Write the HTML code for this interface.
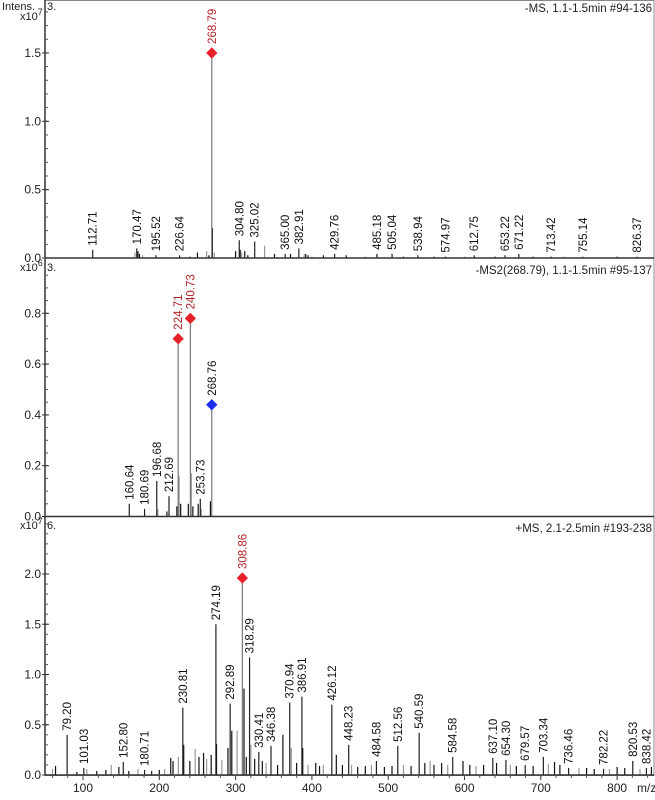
<!DOCTYPE html>
<html><head><meta charset="utf-8">
<style>
html,body{margin:0;padding:0;background:#fff;}
svg{display:block;font-family:"Liberation Sans",Arial,sans-serif;}
</style></head>
<body>
<svg id="chart" width="655" height="800" viewBox="0 0 655 800"></svg>
<script>
// ---- data ----
const xTicks = [100,200,300,400,500,600,700,800];
// Panel 1: -MS (x10^7)
const p1Labels = [112.71,170.47,195.52,226.64,268.79,304.80,325.02,365.00,382.91,429.76,485.18,505.04,538.94,574.97,612.75,653.22,671.22,713.42,755.14,826.37];
const p1Values = [0.06,0.07,0.02,0.02,1.50,0.13,0.12,0.03,0.07,0.03,0.03,0.03,0.02,0.01,0.02,0.02,0.03,0.01,0.01,0.01];
const p1MinorMz = [168,172,174,178,240,250,262,265,269.6,272,300,306,308,312,316,338,351,372,390,392,395,400,415,445,470,520,560,600,640,690,730,800];
const p1MinorVal = [0.04,0.05,0.03,0.02,0.01,0.04,0.05,0.02,0.22,0.04,0.05,0.06,0.04,0.05,0.02,0.09,0.03,0.03,0.03,0.03,0.02,0.01,0.02,0.02,0.01,0.01,0.01,0.01,0.01,0.01,0.01,0.01];
const p1Ticks = [0.0,0.5,1.0,1.5];
// Panel 2: -MS2 (x10^6)
const p2Labels = [160.64,180.69,196.68,212.69,224.71,240.73,253.73,268.76];
const p2Values = [0.05,0.03,0.14,0.08,0.70,0.78,0.07,0.44];
const p2MinorMz = [198,210,223,226,228,238,242,244,251,255,267];
const p2MinorVal = [0.03,0.02,0.04,0.16,0.05,0.05,0.17,0.04,0.05,0.03,0.06];
const p2Ticks = [0.0,0.2,0.4,0.6,0.8];
// Panel 3: +MS (x10^7)
const p3Labels = [79.20,101.03,152.80,180.71,230.81,274.19,292.89,308.86,318.29,330.41,346.38,370.94,386.91,426.12,448.23,484.58,512.56,540.59,584.58,637.10,654.30,679.57,703.34,736.46,782.22,820.53,838.42];
const p3Values = [0.40,0.07,0.13,0.05,0.67,1.50,0.71,1.96,1.17,0.23,0.29,0.72,0.78,0.70,0.30,0.14,0.29,0.42,0.18,0.17,0.15,0.10,0.18,0.07,0.06,0.14,0.07];
const p3MinorMz = [60,64,92,105,118,130,137,147,160,172,190,200,207,215,218,225,232,240,247,252,258,262,268,275,282,290,295,302,311,314,320,325,335,340,355,362,373,380,388,395,405,410,415,432,440,452,460,470,478,495,505,520,530,548,555,560,570,578,598,607,615,625,642,660,668,690,710,718,725,750,760,770,790,800,810,830,845];
const p3MinorVal = [0.06,0.09,0.03,0.06,0.04,0.05,0.1,0.08,0.04,0.06,0.04,0.05,0.06,0.17,0.14,0.18,0.3,0.14,0.26,0.18,0.22,0.16,0.2,0.31,0.15,0.27,0.44,0.44,0.86,0.18,0.3,0.16,0.14,0.12,0.1,0.40,0.27,0.12,0.27,0.1,0.12,0.09,0.1,0.2,0.1,0.1,0.08,0.09,0.1,0.08,0.09,0.1,0.09,0.12,0.14,0.1,0.12,0.1,0.14,0.1,0.09,0.1,0.12,0.1,0.09,0.09,0.11,0.13,0.1,0.07,0.07,0.06,0.06,0.08,0.07,0.06,0.08];
const p3Ticks = [0.0,0.5,1.0,1.5,2.0];

const panels = [
 {name:'ms-panel',top:0,base:258,scale:136.7,labels:p1Labels,values:p1Values,minMz:p1MinorMz,minV:p1MinorVal,ticks:p1Ticks,minorStep:0.1,exp:'7',title:'-MS, 1.1-1.5min #94-136',marks:{'268.79':'#e8202a'}},
 {name:'ms2-panel',top:259,base:516.5,scale:254,labels:p2Labels,values:p2Values,minMz:p2MinorMz,minV:p2MinorVal,ticks:p2Ticks,minorStep:0.05,exp:'6',title:'-MS2(268.79), 1.1-1.5min #95-137',marks:{'224.71':'#e8202a','240.73':'#e8202a','268.76':'#1a2cf0'}},
 {name:'pos-ms-panel',top:517,base:775,scale:100.5,labels:p3Labels,values:p3Values,minMz:p3MinorMz,minV:p3MinorVal,ticks:p3Ticks,minorStep:0.1,exp:'7',title:'+MS, 2.1-2.5min #193-238',marks:{'308.86':'#e8202a'}}
];
const svg = document.getElementById('chart');
const NS='http://www.w3.org/2000/svg';
function xs(m){return 83+(m-100)*0.763;}
function el(tag,attrs,parent){const e=document.createElementNS(NS,tag);for(const k in attrs)e.setAttribute(k,attrs[k]);(parent||svg).appendChild(e);return e;}

const fr=el('rect',{x:45,y:0.5,width:609,height:775,fill:'none',stroke:'#888','stroke-width':1});



panels.forEach((p,pi)=>{
 const g=el('g',{});
 
 
 const ys=v=>p.base-v*p.scale;
 p.minMz.forEach((m,i)=>{
  const l=el('line',{x1:xs(m),x2:xs(m),y1:p.base,y2:ys(p.minV[i]),stroke:i%3==0?'#999':'#111','stroke-width':1.2},g);
  
  
 });
 p.labels.forEach((m,i)=>{
  const key=m.toFixed(2);
  const col=p.marks[key];
  const x=xs(m), y=ys(p.values[i]);
  const l=el('line',{x1:x,x2:x,y1:p.base,y2:y,stroke:col?'#777':'#222','stroke-width':1.2},g);
  
  
  let ty=y-4;
  if(col){
   const d=el('rect',{x:x-4,y:y-4,width:8,height:8,fill:col,transform:`rotate(45 ${x} ${y})`},g);
   
   
   ty=y-9;
  }
  const t=el('text',{x:0,y:0,'font-size':11.5,fill:col&&col!='#1a2cf0'?'#b5242a':'#111',transform:`translate(${x+4} ${ty}) rotate(-90)`},g);
  t.textContent=key;
  
  
 });
 const b=el('line',{x1:45,x2:654,y1:p.base,y2:p.base,stroke:'#333','stroke-width':1.5},g);
 
 
 const a=el('line',{x1:45,x2:45,y1:p.top,y2:p.base,stroke:'#333','stroke-width':1.5},g);
 
 
 for(let v=0;ys(v)>p.top+4;v+=p.minorStep){
  const tk=el('line',{x1:45,x2:48,y1:ys(v),y2:ys(v),stroke:'#555'},g);
  
  
 }
 p.ticks.forEach(v=>{
  const tk=el('line',{x1:42,x2:49,y1:ys(v),y2:ys(v),stroke:'#333'},g);
  
  
  const t=el('text',{x:41,y:ys(v)+4,'font-size':12,'text-anchor':'end',fill:'#222'},g);
  t.textContent=v.toFixed(1);
  
  
 });
 const ex=el('text',{x:20,y:p.top+(pi==0?20:12),'font-size':11,fill:'#222'},g);
 ex.innerHTML='x10<tspan dy="-5" font-size="9">'+p.exp+'</tspan>';
 
 
 const n=el('text',{x:47,y:p.top+(pi==0?10:12),'font-size':11,fill:'#222'},g);
 n.textContent=pi==2?'6.':'3.';
 
 
 const tt=el('text',{x:652,y:p.top+(pi==0?12:15),'font-size':11.5,'text-anchor':'end',fill:'#222'},g);
 tt.textContent=p.title;
 
 
});
const it=el('text',{x:2,y:10,'font-size':11,fill:'#222'});
it.textContent='Intens.';


xTicks.forEach(m=>{
 const tk=el('line',{x1:xs(m),x2:xs(m),y1:775,y2:780,stroke:'#333'});
 
 
 const t=el('text',{x:xs(m),y:792,'font-size':12,'text-anchor':'middle',fill:'#222'});
 t.textContent=m;
 
 
});
for(let m=60;m<=850;m+=20){
 const tk=el('line',{x1:xs(m),x2:xs(m),y1:775,y2:778,stroke:'#555'});
 
 
}
const mz=el('text',{x:637,y:792,'font-size':12,fill:'#222'});
mz.textContent='m/z';


</script>
</body></html>
